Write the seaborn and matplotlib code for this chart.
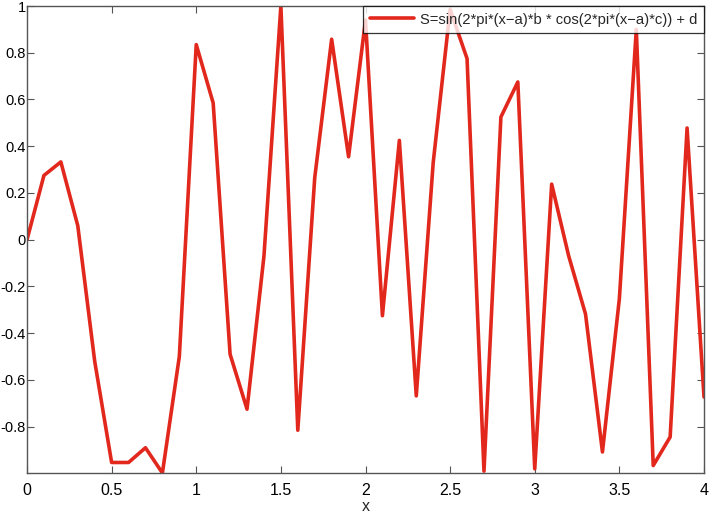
import numpy as np
import pandas as pd
import matplotlib
matplotlib.use("Agg")
import matplotlib.pyplot as plt
import seaborn as sns

x_values = [0.0, 0.1, 0.2, 0.3, 0.4, 0.5, 0.6, 0.7, 0.8, 0.9,
            1.0, 1.1, 1.2, 1.3, 1.4, 1.5, 1.6, 1.7, 1.8, 1.9,
            2.0, 2.1, 2.2, 2.3, 2.4, 2.5, 2.6, 2.7, 2.8, 2.9,
            3.0, 3.1, 3.2, 3.3, 3.4, 3.5, 3.6, 3.7, 3.8, 3.9, 4.0]
s_values = [0.0, 0.275, 0.333, 0.06, -0.52, -0.953, -0.953, -0.89, -0.998, -0.50,
            0.835, 0.585, -0.49, -0.725, -0.07, 1.0, -0.815, 0.265, 0.858, 0.355,
            0.94, -0.325, 0.425, -0.668, 0.33, 0.985, 0.775, -0.99, 0.525, 0.675,
            -0.98, 0.238, -0.068, -0.318, -0.908, -0.252, 0.9, -0.966, -0.844, 0.478, -0.673]
x_ticks = [0, 0.5, 1, 1.5, 2, 2.5, 3, 3.5, 4]
x_tick_labels = ["0", "0.5", "1", "1.5", "2", "2.5", "3", "3.5", "4"]
y_ticks = [-0.8, -0.6, -0.4, -0.2, 0, 0.2, 0.4, 0.6, 0.8, 1]
y_tick_labels = ["-0.8", "-0.6", "-0.4", "-0.2", "0", "0.2", "0.4", "0.6", "0.8", "1"]
series_label = "S=sin(2*pi*(x\u2212a)*b * cos(2*pi*(x\u2212a)*c)) + d"

sns.set_style("white")
plt.rcParams['font.family'] = ['Liberation Sans', 'DejaVu Sans']

df = pd.DataFrame({"x": x_values, "S": s_values})

fig = plt.figure(figsize=(7.09, 5.14), dpi=100)
ax = fig.add_axes([27/709, 41/514, (704-27)/709, (473-6)/514])

sns.lineplot(data=df, x="x", y="S", ax=ax, color="#e2281d", linewidth=2.6,
             label=series_label)

ax.set_xlim(0, 4)
ax.set_ylim(min(s_values), max(s_values))
ax.set_xticks(x_ticks)
ax.set_xticklabels(x_tick_labels)
ax.set_yticks(y_ticks)
ax.set_yticklabels(y_tick_labels)
ax.set_xlabel("x", fontsize=11.5, labelpad=1)
ax.set_ylabel("")

for sp in ax.spines.values():
    sp.set_visible(True)
    sp.set_color("#555555")
    sp.set_linewidth(1.0)
ax.tick_params(axis="both", which="both", direction="in", length=5, width=0.8,
               color="#555555", top=True, right=True,
               bottom=True, left=True, labelcolor="black")
ax.tick_params(axis="x", pad=7, labelsize=11.5)
ax.tick_params(axis="y", pad=1, labelsize=10.5)

leg = ax.legend(loc="upper right", fontsize=10.6, frameon=True, fancybox=False,
                borderaxespad=0, handlelength=3.0, borderpad=0.45,
                handletextpad=0.4)
leg.get_frame().set_edgecolor("black")
leg.get_frame().set_linewidth(0.9)

fig.savefig("out.png", dpi=100)
